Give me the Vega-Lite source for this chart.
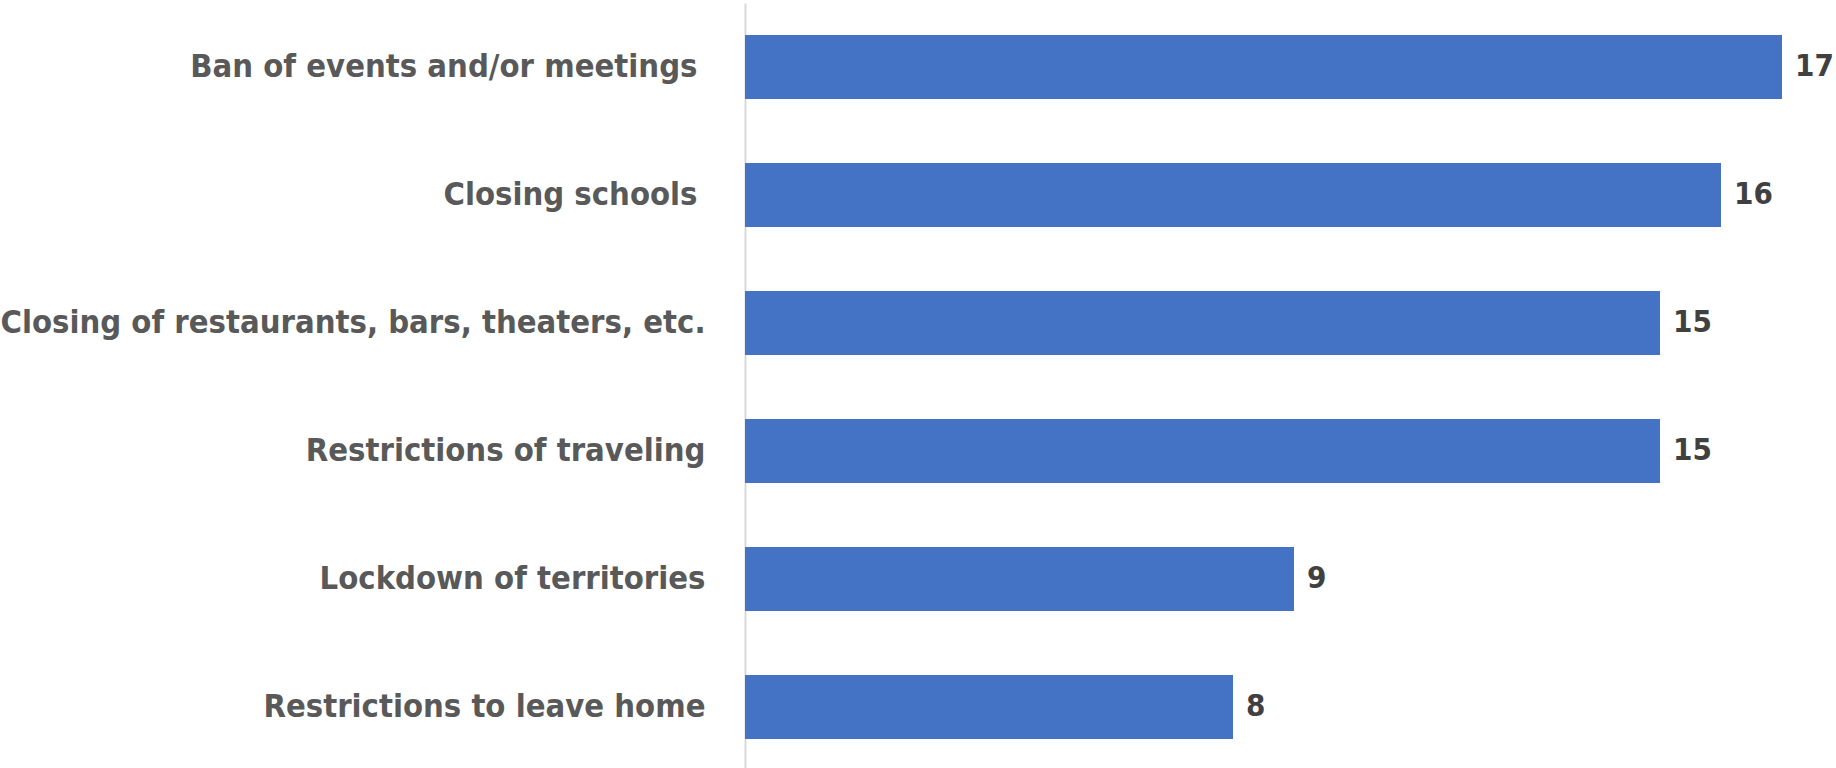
{
  "$schema": "https://vega.github.io/schema/vega-lite/v6.json",
  "autosize": {"type": "none"},
  "padding": {"left": 745, "top": 3, "right": 54, "bottom": 0},
  "width": 1037,
  "height": 768,
  "background": "white",
  "config": {"view": {"stroke": null}, "font": "DejaVu Sans Condensed"},
  "data": {"values": [
    {"measure": "Ban of events and/or meetings", "count": 17},
    {"measure": "Closing schools", "count": 16},
    {"measure": "Closing of restaurants, bars, theaters, etc.", "count": 15},
    {"measure": "Restrictions of traveling", "count": 15},
    {"measure": "Lockdown of territories", "count": 9},
    {"measure": "Restrictions to leave home", "count": 8}
  ]},
  "encoding": {
    "y": {"field": "measure", "type": "nominal", "sort": null,
      "scale": {"paddingInner": 0.5, "paddingOuter": 0.25},
      "axis": {"title": null, "ticks": false, "domainColor": "#d9d9d9", "domainWidth": 2,
        "labelFont": "DejaVu Sans Condensed", "labelFontWeight": "bold", "labelFontSize": 32.5,
        "labelColor": "#595959",
        "labelPadding": {"condition": {"test": "datum.value == 'Ban of events and/or meetings' || datum.value == 'Closing schools'", "value": 48}, "value": 40},
        "labelLimit": 800}},
    "x": {"field": "count", "type": "quantitative", "scale": {"domain": [0, 17], "nice": false},
      "axis": null}
  },
  "layer": [
    {"mark": {"type": "bar", "color": "#4472c4"}},
    {"mark": {"type": "text", "align": "left", "dx": 13, "font": "DejaVu Sans Condensed", "fontWeight": "bold", "fontSize": 31, "color": "#404040"},
     "encoding": {"text": {"field": "count", "type": "quantitative"}}}
  ]
}
